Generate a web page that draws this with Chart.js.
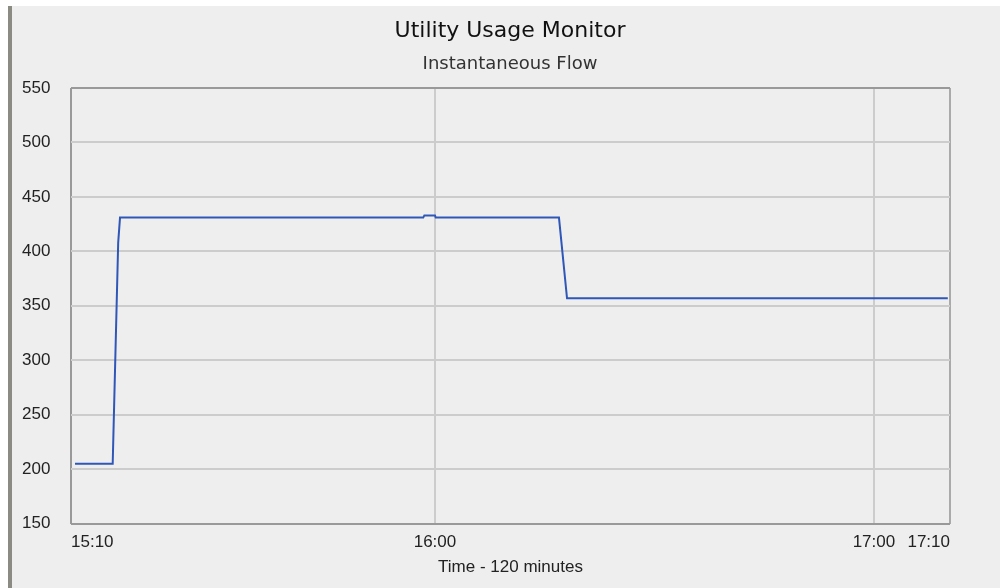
<!DOCTYPE html>
<html>
<head>
<meta charset="utf-8">
<script src="https://cdn.jsdelivr.net/npm/chart.js@4.4.1/dist/chart.umd.min.js"></script>
<style>
    html, body { margin: 0; padding: 0; background: #ffffff; }
    #marco {
        position: absolute; left: 8px; top: 6px;
        width: 988px; height: 582px;
        border-left: 4px solid #8b8b84;
        background: #eeeeee;
    }
    canvas { display: block; }
</style>
</head>
<body>
<div id="marco"><canvas id="grafico" width="988" height="582"></canvas></div>
<script>
// --- DATOS ---
const horas = ['15:10:48', '15:15:57', '15:16:02', '15:16:42', '15:16:57', '15:58:24', '15:58:33',
               '16:00:00', '16:00:06', '16:16:57', '16:18:03', '17:10:06'];
const caudal = [205, 205, 228, 408, 431, 431, 433, 433, 431, 431, 357, 357];

const marcasEje = ['15:10:15', '16:00:00', '17:00:00', '17:10:24'];
const etiquetasEje = ['15:10', '16:00', '17:00', '17:10'];
const limitesY = [150, 550];
const pasoY = 50;

// "HH:MM:SS" -> minutos
function aMinutos(txt) {
    const p = txt.split(':').map(Number);
    return p[0] * 60 + p[1] + (p[2] || 0) / 60;
}

const marcasMin = marcasEje.map(aMinutos);
const puntos = horas.map((h, i) => ({ x: aMinutos(h), y: caudal[i] }));

const fuenteEjes = "'Liberation Sans', Arial, sans-serif";

new Chart(document.getElementById('grafico').getContext('2d'), {
    type: 'line',
    data: {
        datasets: [{
            data: puntos,
            borderColor: '#2f57b8',
            borderWidth: 2,
            pointRadius: 0,
            tension: 0,
            fill: false
        }]
    },
    options: {
        responsive: false,
        animation: false,
        layout: { padding: { left: 10, right: 2, top: 0, bottom: 10 } },
        plugins: {
            legend: { display: false },
            tooltip: { enabled: false },
            title: {
                display: true,
                text: 'Utility Usage Monitor',
                color: '#111111',
                font: { family: "'DejaVu Sans', sans-serif", size: 22, weight: 'normal' },
                padding: { top: 12, bottom: 9 }
            },
            subtitle: {
                display: true,
                text: 'Instantaneous Flow',
                color: '#333333',
                font: { family: "'DejaVu Sans', sans-serif", size: 18, weight: 'normal' },
                padding: { top: 0, bottom: 13 }
            }
        },
        scales: {
            x: {
                type: 'linear',
                min: marcasMin[0],
                max: marcasMin[marcasMin.length - 1],
                afterBuildTicks: (eje) => { eje.ticks = marcasMin.map(v => ({ value: v })); },
                ticks: {
                    autoSkip: false,
                    maxRotation: 0,
                    align: 'inner',
                    padding: 10,
                    color: '#222222',
                    font: { family: fuenteEjes, size: 17, lineHeight: 1 },
                    callback: (valor, i) => etiquetasEje[i]
                },
                grid: {
                    drawTicks: false,
                    lineWidth: 2,
                    color: (ctx) => {
                        const v = ctx.tick ? ctx.tick.value : null;
                        if (v === marcasMin[0]) return '#999999';
                        if (v === marcasMin[marcasMin.length - 1]) return '#aaaaaa';
                        return '#cccccc';
                    }
                },
                border: { display: false },
                title: {
                    display: true,
                    text: 'Time - 120 minutes',
                    color: '#222222',
                    font: { family: fuenteEjes, size: 17 },
                    padding: { top: -3, bottom: 0 }
                }
            },
            y: {
                min: limitesY[0],
                max: limitesY[1],
                afterFit: (eje) => { eje.width = 49; },
                ticks: {
                    stepSize: pasoY,
                    crossAlign: 'far',
                    color: '#222222',
                    font: { family: fuenteEjes, size: 17 }
                },
                grid: {
                    drawTicks: false,
                    lineWidth: 2,
                    color: (ctx) => {
                        const v = ctx.tick ? ctx.tick.value : null;
                        if (v === limitesY[0] || v === limitesY[1]) return '#999999';
                        return '#cccccc';
                    }
                },
                border: { display: false }
            },
            // eje fantasma para dejar el hueco de la derecha
            y2: {
                position: 'right',
                afterFit: (eje) => { eje.width = 48; },
                ticks: { display: false },
                grid: { display: false },
                border: { display: false }
            }
        }
    }
});
</script>
</body>
</html>
